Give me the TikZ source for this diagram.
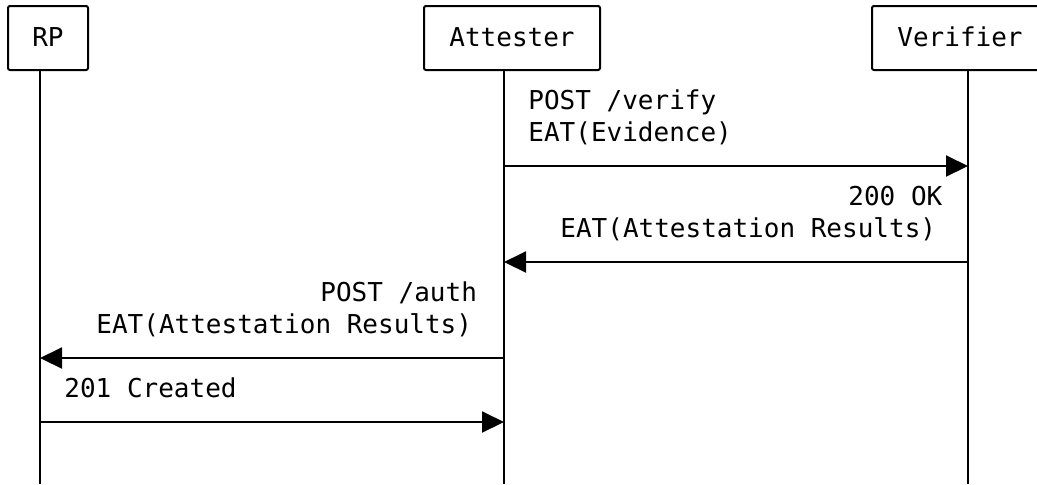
\documentclass[tikz,border=0pt]{standalone}
\usepackage{fontspec}
\newfontfamily\seqfont{DejaVu Sans Mono}
\usetikzlibrary{arrows.meta}

\tikzset{
  actor/.style={draw, line width=1pt, rounded corners=1pt, minimum width=88pt,
    minimum height=32pt, inner sep=0pt, text height=8pt, text depth=0pt},
  lifeline/.style={line width=1pt},
  msg/.style={line width=1pt, -{Triangle[length=11pt,width=10.5pt]}},
  lbl/.style={anchor=base west, inner sep=0pt},
}

\begin{document}
\begin{tikzpicture}[x=0.5pt,y=-0.5pt,font=\seqfont\fontsize{13pt}{15pt}\selectfont]
\useasboundingbox (0,0) rectangle (1037,484);

% participants
\node[actor, minimum width=40pt] (rp) at (48,38) {RP};
\node[actor] (att) at (512,38) {Attester};
\node[actor] (ver) at (960,38) {Verifier};

% lifelines
\coordinate (rpLine) at (40,484);
\coordinate (attLine) at (504,484);
\coordinate (verLine) at (968,484);
\draw[lifeline] (rp.south -| rpLine) -- (rpLine);
\draw[lifeline] (att.south -| attLine) -- (attLine);
\draw[lifeline] (ver.south -| verLine) -- (verLine);

% message rows
\coordinate (verifyRow) at (0,166);
\coordinate (okRow) at (0,262);
\coordinate (authRow) at (0,358);
\coordinate (createdRow) at (0,422);

\draw[msg] (attLine |- verifyRow) -- (verLine |- verifyRow);
\node[lbl] (verifyA) at (528,109) {POST /verify};
\node[lbl] (verifyB) at (528,141) {EAT(Evidence)};

\draw[msg] (verLine |- okRow) -- (attLine |- okRow);
\node[lbl] (okA) at (848,205) {200 OK};
\node[lbl] (okB) at (560,237) {EAT(Attestation Results)};

\draw[msg] (attLine |- authRow) -- (rpLine |- authRow);
\node[lbl] (authA) at (320,301) {POST /auth};
\node[lbl] (authB) at (96,333) {EAT(Attestation Results)};

\draw[msg] (rpLine |- createdRow) -- (attLine |- createdRow);
\node[lbl] (createdA) at (64,397) {201 Created};
\end{tikzpicture}
\end{document}
